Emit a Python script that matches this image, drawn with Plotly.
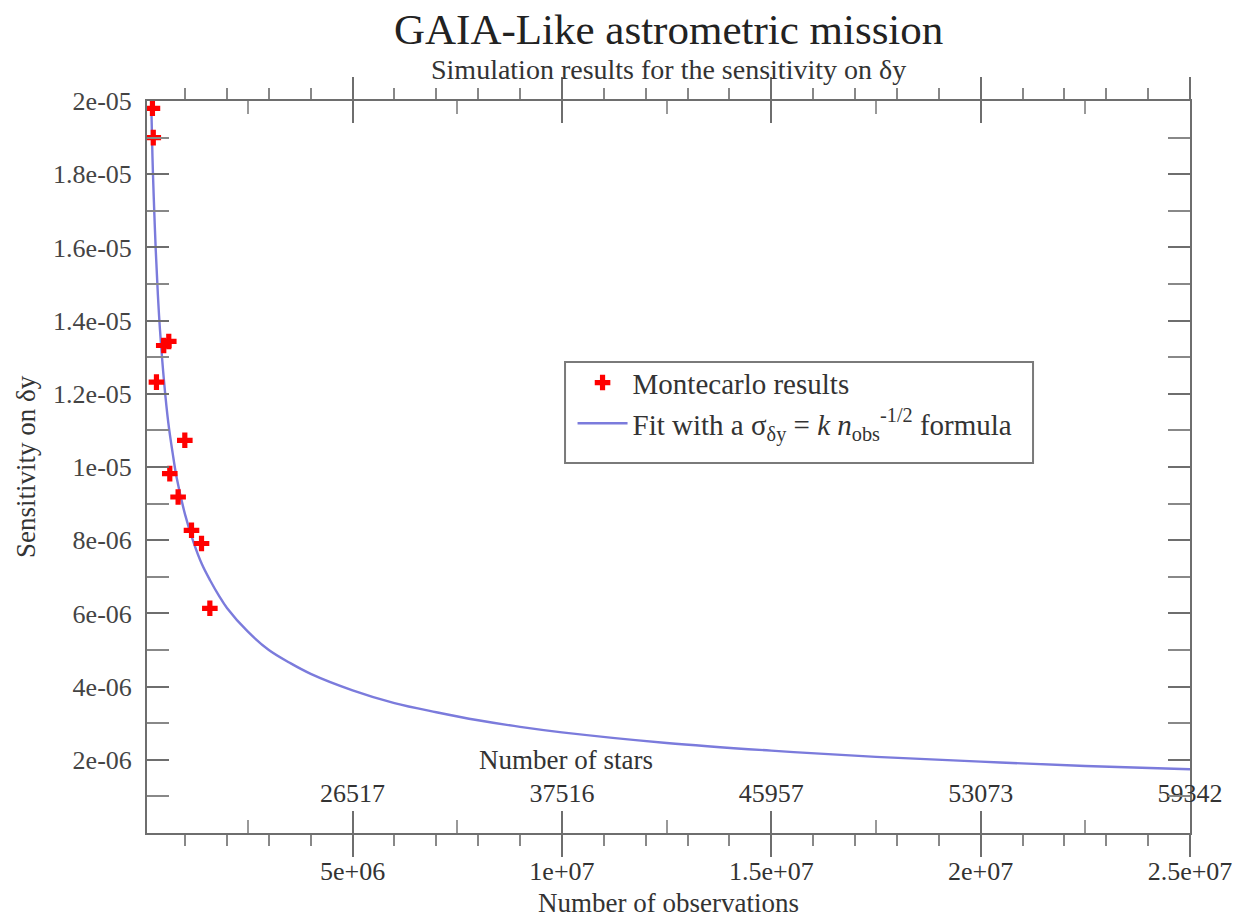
import plotly.graph_objects as go

# ---- data ----
obs_mc = [0.22e6, 0.24e6, 0.316e6, 0.49e6, 0.61e6, 0.993e6, 0.634e6, 0.833e6, 1.153e6, 1.392e6, 1.591e6]
sens_mc = [19.8e-6, 19.0e-6, 12.32e-6, 13.32e-6, 13.43e-6, 10.73e-6, 9.82e-6, 9.18e-6, 8.27e-6, 7.91e-6, 6.14e-6]

obs_fit = [0.19e6, 0.22e6, 0.25e6, 0.3e6, 0.35e6, 0.4e6, 0.5e6, 0.6e6, 0.7e6, 0.8e6, 1.0e6,
           1.2e6, 1.4e6, 1.6e6, 1.8e6, 2.0e6, 2.5e6, 3.0e6, 3.5e6, 4.0e6, 5.0e6, 6.0e6,
           7.0e6, 8.0e6, 9.0e6, 10e6, 12.5e6, 15e6, 17.5e6, 20e6, 22.5e6, 25e6]
sens_fit = [20.0e-6, 18.5e-6, 17.4e-6, 15.9e-6, 14.7e-6, 13.75e-6, 12.3e-6, 11.2e-6, 10.4e-6, 9.7e-6, 8.7e-6,
            7.95e-6, 7.35e-6, 6.9e-6, 6.5e-6, 6.15e-6, 5.5e-6, 5.0e-6, 4.65e-6, 4.35e-6, 3.9e-6, 3.55e-6,
            3.3e-6, 3.08e-6, 2.9e-6, 2.75e-6, 2.46e-6, 2.25e-6, 2.08e-6, 1.95e-6, 1.83e-6, 1.74e-6]

obs_tick_vals = [5e6, 1e7, 1.5e7, 2e7, 2.5e7]
obs_tick_text = ["5e+06", "1e+07", "1.5e+07", "2e+07", "2.5e+07"]
star_tick_text = ["26517", "37516", "45957", "53073", "59342"]
sens_tick_vals = [2e-6, 4e-6, 6e-6, 8e-6, 1e-5, 1.2e-5, 1.4e-5, 1.6e-5, 1.8e-5, 2e-5]
sens_tick_text = ["2e-06", "4e-06", "6e-06", "8e-06", "1e-05", "1.2e-05", "1.4e-05", "1.6e-05", "1.8e-05", "2e-05"]

FONT = "Liberation Serif"
AX = "#6e6e6e"
XR = [0.09e6, 2.5e7]
YR = [0, 2e-5]

fig = go.Figure()
fig.add_trace(go.Scatter(
    x=obs_fit, y=sens_fit, mode="lines", line=dict(color="#7b7bdc", width=2.4, shape="spline"),
    name="Fit with a σ<sub>δy</sub> = <i>k n</i><sub>obs</sub><sup>-1/2</sup> formula"))
fig.add_trace(go.Scatter(
    x=obs_mc, y=sens_mc, mode="markers", marker=dict(symbol="cross", size=13, color="#ff0000", line=dict(width=0)),
    name="Montecarlo results"))
# helper traces so the overlay axes are drawn
for ax in ["x2", "x3", "x4"]:
    fig.add_trace(go.Scatter(x=obs_tick_vals, y=sens_tick_vals[:5], xaxis=ax, mode="markers",
                             marker=dict(opacity=0), showlegend=False, hoverinfo="skip"))

fig.update_layout(
    width=1243, height=918,
    margin=dict(l=147, r=53, t=101, b=85, autoexpand=False),
    plot_bgcolor="white", paper_bgcolor="white",
    font=dict(family=FONT, color="#333333", size=24),
    showlegend=True,
    legend=dict(x=0.408, y=0.650, xanchor="left", yanchor="top", bgcolor="rgba(0,0,0,0)",
                borderwidth=0, font=dict(family=FONT, size=29, color="#333333"),
                traceorder="reversed", tracegroupgap=2, itemwidth=50),
    xaxis=dict(range=XR, domain=[0, 1], anchor="y", side="bottom", automargin=False,
               showline=True, linecolor=AX, linewidth=2, mirror="allticks",
               tickmode="array", tickvals=obs_tick_vals, ticktext=obs_tick_text,
               ticks="outside", ticklen=22, tickwidth=2, tickcolor=AX, ticklabelstandoff=-8,
               minor=dict(tickmode="array", tickvals=[i * 1e6 for i in range(1, 26)],
                          ticks="outside", ticklen=11, tickwidth=2, tickcolor="#888888"),
               showgrid=False, zeroline=False,
               tickfont=dict(family=FONT, size=26, color="#333333")),
    xaxis3=dict(range=XR, overlaying="x", anchor="y", side="bottom", automargin=False,
                showline=False, mirror="allticks",
                tickmode="array", tickvals=obs_tick_vals, showticklabels=False,
                ticks="inside", ticklen=22, tickwidth=2, tickcolor=AX,
                showgrid=False, zeroline=False),
    xaxis4=dict(range=XR, overlaying="x", anchor="y", side="bottom", automargin=False,
                showline=False, mirror="allticks",
                tickmode="array", tickvals=[2.5e6 + i * 5e6 for i in range(5)], showticklabels=False,
                ticks="inside", ticklen=13, tickwidth=2, tickcolor="#999999",
                showgrid=False, zeroline=False),
    xaxis2=dict(range=XR, overlaying="x", anchor="free", position=0.035, side="top", automargin=False,
                showline=False, ticks="", tickmode="array", tickvals=obs_tick_vals,
                ticktext=star_tick_text, showgrid=False, zeroline=False,
                tickfont=dict(family=FONT, size=26, color="#333333")),
    yaxis=dict(range=YR, showline=True, linecolor=AX, linewidth=2, mirror="allticks", automargin=False,
               tickmode="array", tickvals=sens_tick_vals, ticktext=sens_tick_text,
               ticks="inside", ticklen=22, tickwidth=2, tickcolor=AX, ticklabelstandoff=8,
               minor=dict(tickmode="array", tickvals=[1e-6 + i * 2e-6 for i in range(10)],
                          ticks="inside", ticklen=12, tickwidth=2, tickcolor="#888888"),
               showgrid=False, zeroline=False,
               tickfont=dict(family=FONT, size=26, color="#444444")),
    shapes=[dict(type="rect", xref="paper", yref="paper", x0=0.4008, x1=0.8495, y0=0.5055, y1=0.6434,
                 line=dict(color="#7a7a7a", width=2), fillcolor="rgba(0,0,0,0)", layer="below")],
    annotations=[
        dict(text="GAIA-Like astrometric mission", xref="paper", yref="paper", x=0.5, y=1.097,
             xanchor="center", yanchor="middle", showarrow=False,
             font=dict(family=FONT, size=43, color="#222222")),
        dict(text="Simulation results for the sensitivity on δy", xref="paper", yref="paper", x=0.5, y=1.043,
             xanchor="center", yanchor="middle", showarrow=False,
             font=dict(family=FONT, size=28, color="#333333")),
        dict(text="Sensitivity on δy", xref="paper", yref="paper", x=-0.116, y=0.5, textangle=-90,
             xanchor="center", yanchor="middle", showarrow=False,
             font=dict(family=FONT, size=27, color="#333333")),
        dict(text="Number of observations", xref="paper", yref="paper", x=0.5, y=-0.095,
             xanchor="center", yanchor="middle", showarrow=False,
             font=dict(family=FONT, size=27, color="#333333")),
        dict(text="Number of stars", xref="paper", yref="paper", x=0.4017, y=0.1,
             xanchor="center", yanchor="middle", showarrow=False,
             font=dict(family=FONT, size=27, color="#333333")),
    ],
)

fig.write_html("out.html")
